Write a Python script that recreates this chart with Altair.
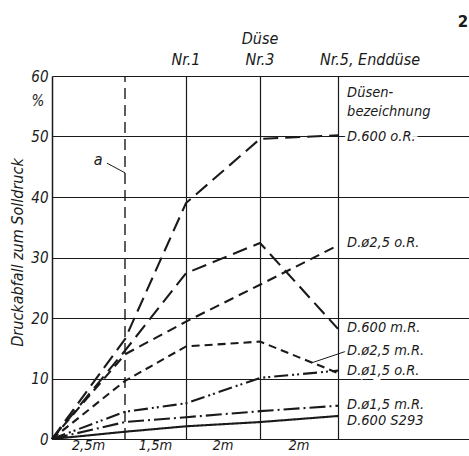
import altair as alt
import pandas as pd

# stations along the pipe (m): start, point a, Nr.1, Nr.3, Nr.5 (Enddüse)
stations = [0, 2.5, 4, 6, 8]
seg_labels = ["2,5m", "1,5m", "2m", "2m"]

series_names = ["D.600 o.R.", "D.600 m.R.", "D.ø2,5 o.R.", "D.ø2,5 m.R.",
                "D.ø1,5 o.R.", "D.ø1,5 m.R.", "D.600 S293"]
v_600_oR = [0, 16.5, 39.0, 49.6, 50.2]
v_600_mR = [0, 14.6, 27.4, 32.4, 18.2]
v_25_oR = [0, 14.0, 19.4, 25.5, 32.0]
v_25_mR = [0, 9.6, 15.3, 16.1, 10.9]
v_15_oR = [0, 4.5, 5.9, 10.1, 11.3]
v_15_mR = [0, 2.8, 3.6, 4.6, 5.5]
v_S293 = [0, 1.2, 2.1, 2.8, 3.8]
all_values = [v_600_oR, v_600_mR, v_25_oR, v_25_mR, v_15_oR, v_15_mR, v_S293]

# label heights, same order as series_names
label_y = [50.0, 18.3, 32.4, 14.5, 11.2, 5.7, 3.0]
head_text = ["Düsen-", "bezeichnung"]
head_y = [57.2, 54.0]
top_text = ["Nr.1", "Nr.3"]
top_x = [4, 6]

FONT = "DejaVu Sans Condensed, Liberation Sans Narrow, DejaVu Sans"
INK = "#1a1a1a"

rows = []
for name, vals in zip(series_names, all_values):
    for s, v in zip(stations, vals):
        rows.append({"x": s, "y": v, "series": name})
df = pd.DataFrame(rows)

xs = alt.Scale(domain=[0, 2.5, 4, 6, 8, 11.6], range=[0, 73, 134, 208, 286, 417], nice=False)
ys = alt.Scale(domain=[0, 60], nice=False, zero=True)

dash_range = [[15, 7], [15, 7], [10, 6], [8, 5], [14, 4, 2, 3, 2, 4], [16, 4, 2, 4], [1, 0]]

base_x = alt.X("x:Q", scale=xs,
               axis=alt.Axis(values=[4, 6, 8], grid=True, gridColor=INK, gridWidth=1.2,
                             labels=False, ticks=False, domain=False, title=None))
base_y = alt.Y("y:Q", scale=ys,
               axis=alt.Axis(values=[0, 10, 20, 30, 40, 50, 60], grid=True, gridColor=INK,
                             gridWidth=1.2, ticks=False, domain=True, domainColor=INK,
                             domainWidth=1.5, labelFont=FONT, labelFontSize=15,
                             labelFontStyle="italic", labelColor=INK, labelPadding=4,
                             title="Druckabfall zum Solldruck", titleFont=FONT,
                             titleFontSize=16, titleFontStyle="italic",
                             titleFontWeight="normal", titleColor=INK,
                             titleX=-27, titleY=176))

lines = alt.Chart(df).mark_line(color=INK, strokeWidth=2.1).encode(
    x=base_x, y=base_y,
    strokeDash=alt.StrokeDash("series:N", scale=alt.Scale(domain=series_names, range=dash_range),
                              legend=None),
    detail="series:N",
)

# dashed vertical line at point a
a_df = pd.DataFrame({"x": [stations[1]], "y": [0], "y2": [60]})
a_rule = alt.Chart(a_df).mark_rule(color=INK, strokeWidth=1.4, strokeDash=[11, 6]).encode(
    x=alt.X("x:Q", scale=xs), y=alt.Y("y:Q", scale=ys), y2="y2:Q")

# label 'a' with leader
a_lab = pd.DataFrame({"x": [1.58], "y": [46.1], "t": ["a"]})
a_text = alt.Chart(a_lab).mark_text(font=FONT, fontSize=16, fontStyle="italic", color=INK).encode(
    x=alt.X("x:Q", scale=xs), y=alt.Y("y:Q", scale=ys), text="t:N")
a_lead = pd.DataFrame({"x": [1.88], "y": [45.6], "x2": [2.5], "y2": [44.0]})
a_lead_rule = alt.Chart(a_lead).mark_rule(color=INK, strokeWidth=1).encode(
    x=alt.X("x:Q", scale=xs), y=alt.Y("y:Q", scale=ys), x2="x2:Q", y2="y2:Q")

# leader for D.ø2,5 m.R.
lead25 = pd.DataFrame({"x": [8.22], "y": [14.5], "x2": [7.33], "y2": [12.6]})
lead25_rule = alt.Chart(lead25).mark_rule(color=INK, strokeWidth=1).encode(
    x=alt.X("x:Q", scale=xs), y=alt.Y("y:Q", scale=ys), x2="x2:Q", y2="y2:Q")

lab_df = pd.DataFrame({"x": [8.25] * (len(series_names) + 2),
                       "y": label_y + head_y,
                       "t": series_names + head_text})
lab_halo = alt.Chart(lab_df).mark_text(font=FONT, fontSize=14.5, fontStyle="italic", align="left",
                                       baseline="middle", stroke="white", strokeWidth=6,
                                       color="white").encode(
    x=alt.X("x:Q", scale=xs), y=alt.Y("y:Q", scale=ys), text="t:N")
lab_text = alt.Chart(lab_df).mark_text(font=FONT, fontSize=14.5, fontStyle="italic", align="left",
                                       baseline="middle", color=INK).encode(
    x=alt.X("x:Q", scale=xs), y=alt.Y("y:Q", scale=ys), text="t:N")

# top labels
top_df = pd.DataFrame({"x": top_x, "t": top_text})
top_marks = alt.Chart(top_df).mark_text(font=FONT, fontSize=16, fontStyle="italic", color=INK,
                                        baseline="middle").encode(
    x=alt.X("x:Q", scale=xs), y=alt.value(-16), text="t:N")
nr5_df = pd.DataFrame({"x": [stations[4]], "t": ["Nr.5, Enddüse"]})
nr5_mark = alt.Chart(nr5_df).mark_text(font=FONT, fontSize=16, fontStyle="italic", color=INK,
                                       baseline="middle", align="left", dx=-18).encode(
    x=alt.X("x:Q", scale=xs), y=alt.value(-16), text="t:N")
duese_df = pd.DataFrame({"x": [stations[3]], "t": ["Düse"]})
duese_mark = alt.Chart(duese_df).mark_text(font=FONT, fontSize=16, fontStyle="italic", color=INK,
                                           baseline="middle").encode(
    x=alt.X("x:Q", scale=xs), y=alt.value(-37), text="t:N")
fig_df = pd.DataFrame({"t": ["2"]})
fig_mark = alt.Chart(fig_df).mark_text(font="DejaVu Sans", fontSize=15, fontWeight="bold",
                                       color=INK, baseline="middle").encode(
    x=alt.value(411), y=alt.value(-54), text="t:N")
pct_df = pd.DataFrame({"t": ["%"]})
pct_mark = alt.Chart(pct_df).mark_text(font=FONT, fontSize=15, fontStyle="italic", color=INK,
                                       baseline="middle").encode(
    x=alt.value(-14), y=alt.value(25), text="t:N")

# segment length labels below the axis
mids = [(stations[i] + stations[i + 1]) / 2 for i in range(len(stations) - 1)]
seg_df = pd.DataFrame({"x": mids, "t": seg_labels})
seg_mark = alt.Chart(seg_df).mark_text(font=FONT, fontSize=14.5, fontStyle="italic", color=INK,
                                       baseline="middle").encode(
    x=alt.X("x:Q", scale=xs), y=alt.value(370), text="t:N")

chart = alt.layer(
    lines, a_rule, a_text, a_lead_rule, lead25_rule, lab_halo, lab_text,
    top_marks, nr5_mark, duese_mark, fig_mark, pct_mark, seg_mark,
).properties(
    width=417, height=363,
    autosize=alt.AutoSizeParams(type="none"),
    padding={"left": 52, "top": 76, "right": 0, "bottom": 17},
    background="white",
).configure_view(stroke=None)

chart.save("out.html", embed_options={"renderer": "svg", "actions": False})
